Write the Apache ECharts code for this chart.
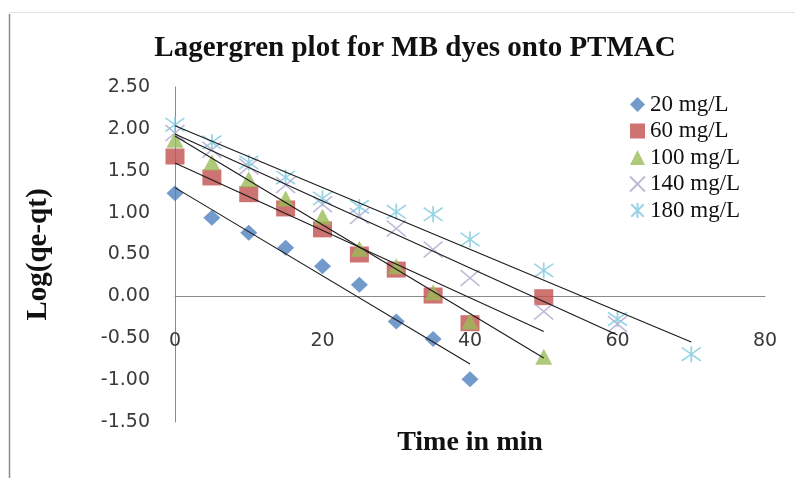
<!DOCTYPE html>
<html>
<head>
<meta charset="utf-8">
<script src="https://cdn.jsdelivr.net/npm/echarts@6/dist/echarts.min.js"></script>
<style>
  html, body { margin: 0; padding: 0; background: #ffffff; }
  #chart { width: 795px; height: 478px; }
</style>
</head>
<body>
<div id="chart"></div>
<script>
// Sampling times (min); each series uses the first N of these
const timeMin = [0, 5, 10, 15, 20, 25, 30, 35, 40, 50, 60, 70];

// log(qe - qt) for each initial dye concentration
const log20  = [1.23, 0.94, 0.76, 0.58, 0.36, 0.14, -0.30, -0.51, -0.99];
const log60  = [1.67, 1.42, 1.22, 1.05, 0.80, 0.50, 0.32, 0.01, -0.32, -0.01];
const log100 = [1.87, 1.60, 1.40, 1.17, 0.95, 0.57, 0.36, 0.05, -0.30, -0.72];
const log140 = [1.95, 1.75, 1.55, 1.33, 1.10, 0.96, 0.81, 0.56, 0.22, -0.18, -0.33];
const log180 = [2.05, 1.84, 1.60, 1.42, 1.17, 1.07, 1.01, 0.98, 0.68, 0.31, -0.27, -0.69];

const seriesNames = ['20 mg/L', '60 mg/L', '100 mg/L', '140 mg/L', '180 mg/L'];
const seriesValues = [log20, log60, log100, log140, log180];

// Axis ranges and tick steps
const xTicks = { min: 0, max: 80, step: 20 };
const yTicks = { min: -1.5, max: 2.5, step: 0.5 };

const serif = "'Liberation Serif', 'Times New Roman', serif";
const sans = "'DejaVu Sans', sans-serif";

// Plot area placement inside the 795 x 478 canvas
const grid = { left: 175, right: 30, top: 87, bottom: 56 };
const plotHeight = 478 - grid.top - grid.bottom;
// Lift the x axis (line, labels, title) up to where y = 0 sits
const xAxisLift = plotHeight * (0 - yTicks.min) / (yTicks.max - yTicks.min);

const markerStyles = [
  { symbol: 'diamond', symbolSize: [17, 16], itemStyle: { color: '#4F81BD' } },
  { symbol: 'rect', symbolSize: [19, 16], itemStyle: { color: '#C0504D' } },
  { symbol: 'triangle', symbolSize: [17, 16], itemStyle: { color: '#9BBB59' } },
  { symbol: 'path://M0,0L10,10M10,0L0,10', symbolSize: [19, 16],
    itemStyle: { color: 'rgba(0,0,0,0)', borderColor: '#B2A5CC', borderWidth: 1.6 } },
  { symbol: 'path://M0,0L10,10M10,0L0,10M5,-1L5,11', symbolSize: [19, 16],
    itemStyle: { color: 'rgba(0,0,0,0)', borderColor: '#7CC8DE', borderWidth: 1.6 } }
];

function pairs(values) {
  return values.map((v, i) => [timeMin[i], v]);
}

// Least-squares straight line over a series, drawn from its first to last time
function linearFit(values) {
  const xs = timeMin.slice(0, values.length);
  const n = values.length;
  const mx = xs.reduce((a, b) => a + b, 0) / n;
  const my = values.reduce((a, b) => a + b, 0) / n;
  let sxy = 0, sxx = 0;
  for (let i = 0; i < n; i++) {
    sxy += (xs[i] - mx) * (values[i] - my);
    sxx += (xs[i] - mx) * (xs[i] - mx);
  }
  const slope = sxy / sxx;
  const icpt = my - slope * mx;
  const x0 = xs[0], x1 = xs[n - 1];
  return [[x0, icpt + slope * x0], [x1, icpt + slope * x1]];
}

const scatterSeries = seriesNames.map((name, k) => Object.assign({
  name: name,
  type: 'scatter',
  data: pairs(seriesValues[k]),
  z: 2 + k
}, markerStyles[k]));

const trendSeries = seriesValues.map((vals, k) => ({
  name: 'fit-' + seriesNames[k],
  type: 'line',
  data: linearFit(vals),
  symbol: 'none',
  silent: true,
  z: 10,
  lineStyle: { color: '#1a1a1a', width: 1.1 }
}));

const chart = echarts.init(document.getElementById('chart'), null, { renderer: 'canvas' });
chart.setOption({
  animation: false,
  backgroundColor: '#ffffff',
  title: {
    text: 'Lagergren plot for MB dyes onto PTMAC',
    left: 410,
    textAlign: 'center',
    top: 29,
    textStyle: { fontFamily: serif, fontWeight: 'bold', fontSize: 29, color: '#111111' }
  },
  legend: {
    data: seriesNames,
    orient: 'vertical',
    left: 624,
    top: 88,
    itemWidth: 15,
    itemHeight: 15,
    itemGap: 3.5,
    textStyle: { fontFamily: serif, fontSize: 23, color: '#111111' }
  },
  grid: Object.assign({ containLabel: false, outerBoundsMode: 'none' }, grid),
  xAxis: {
    type: 'value',
    min: xTicks.min,
    max: xTicks.max,
    interval: xTicks.step,
    offset: -xAxisLift,
    name: 'Time in min',
    nameLocation: 'middle',
    nameGap: 132,
    nameTextStyle: { fontFamily: serif, fontWeight: 'bold', fontSize: 28, color: '#111111' },
    axisLine: { onZero: false, lineStyle: { color: '#8a8a8a', width: 1 } },
    axisTick: { show: false },
    splitLine: { show: false },
    axisLabel: { margin: 35, fontFamily: sans, fontSize: 19, color: '#3a3a3a' }
  },
  yAxis: {
    type: 'value',
    min: yTicks.min,
    max: yTicks.max,
    interval: yTicks.step,
    name: 'Log(qe-qt)',
    nameLocation: 'middle',
    nameGap: 122,
    nameTextStyle: { fontFamily: serif, fontWeight: 'bold', fontSize: 29, color: '#111111' },
    axisLine: { show: true, onZero: false, lineStyle: { color: '#8a8a8a', width: 1 } },
    axisTick: { show: false },
    splitLine: { show: false },
    axisLabel: {
      margin: 25,
      fontFamily: sans,
      fontSize: 19,
      color: '#3a3a3a',
      formatter: v => v.toFixed(2)
    }
  },
  graphic: [
    { type: 'line', shape: { x1: 9.5, y1: 14, x2: 9.5, y2: 478 }, style: { stroke: '#8c8c8c', lineWidth: 1.5 }, silent: true },
    { type: 'line', shape: { x1: 9, y1: 12.5, x2: 795, y2: 12.5 }, style: { stroke: '#e2e2e2', lineWidth: 1 }, silent: true }
  ],
  series: scatterSeries.concat(trendSeries)
});
</script>
</body>
</html>
